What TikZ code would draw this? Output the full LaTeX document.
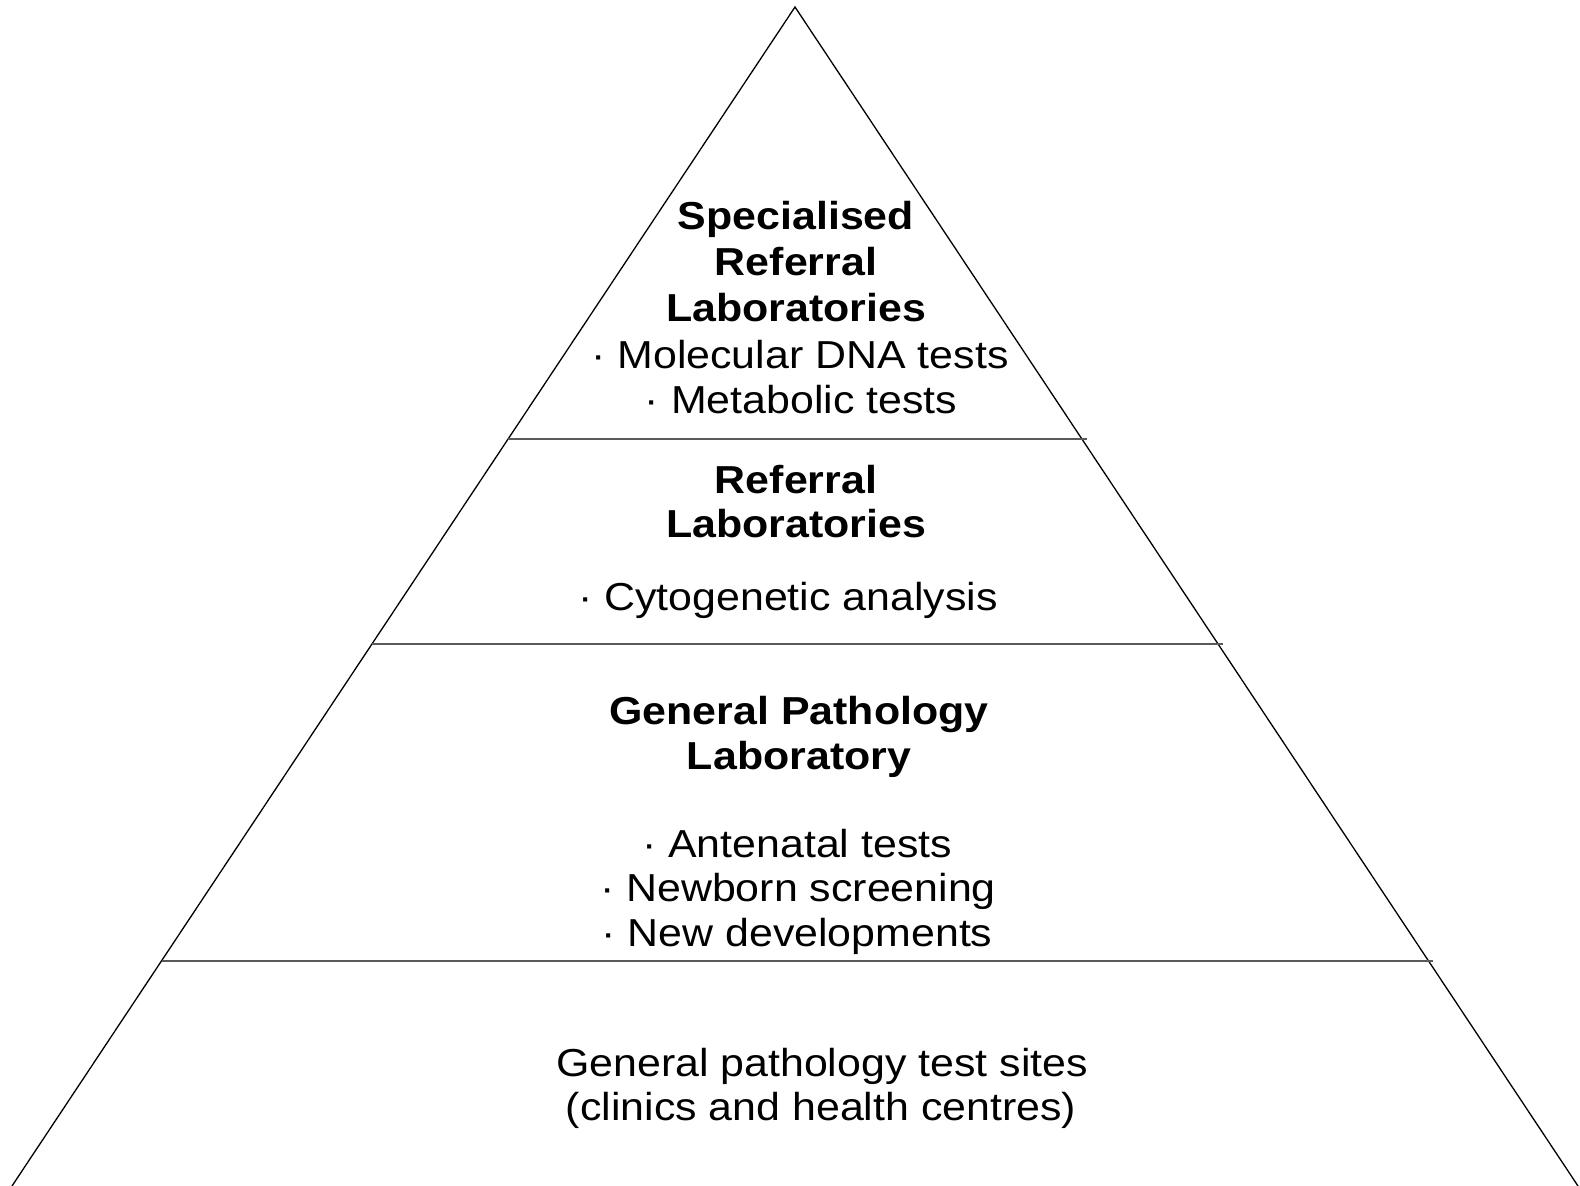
\documentclass[tikz,border=0pt]{standalone}
\usepackage{fontspec}
\setmainfont{Liberation Sans}[FakeStretch=1.1]
\begin{document}
\begin{tikzpicture}[x=1pt,y=-1pt,
  side/.style={draw=black,line width=1.3pt},
  tier/.style={draw=black!65,line width=1.6pt},
  ttl/.style={anchor=base,inner sep=0pt,font=\fontsize{39}{45}\selectfont\bfseries},
  itm/.style={anchor=base,inner sep=0pt,font=\fontsize{39}{45}\selectfont}]
\useasboundingbox (0,0) rectangle (1580,1186);
\coordinate (apex) at (795,7);
\coordinate (bl) at (12,1186);
\coordinate (br) at (1578,1186);
\coordinate (l1) at (508,439); \coordinate (r1) at (1087,439);
\coordinate (l2) at (372,644); \coordinate (r2) at (1223,644);
\coordinate (l3) at (162,961); \coordinate (r3) at (1433,961);
\draw[side] (bl) -- (apex) -- (br);
\draw[tier] (l1) -- (r1);
\draw[tier] (l2) -- (r2);
\draw[tier] (l3) -- (r3);
% tier 1
\node[ttl] (a1) at (796,229) {Specialised};
\node[ttl] (a2) at (796,275) {Referral};
\node[ttl] (a3) at (796,321) {Laboratories};
\node[itm] (a4) at (800,368) {· Molecular DNA tests};
\node[itm] (a5) at (801,413) {· Metabolic tests};
% tier 2
\node[ttl] (b1) at (796,493) {Referral};
\node[ttl] (b2) at (796,537) {Laboratories};
\node[itm] (b3) at (788,610) {· Cytogenetic analysis};
% tier 3
\node[ttl] (c1) at (799,724) {General Pathology};
\node[ttl] (c2) at (799,769) {Laboratory};
\node[itm] (c3) at (797,857) {· Antenatal tests};
\node[itm] (c4) at (798,901) {· Newborn screening};
\node[itm] (c5) at (797,946) {· New developments};
% tier 4
\node[itm] (d1) at (822,1076) {General pathology test sites};
\node[itm] (d2) at (821,1120) {(clinics and health centres)};
\end{tikzpicture}
\end{document}
